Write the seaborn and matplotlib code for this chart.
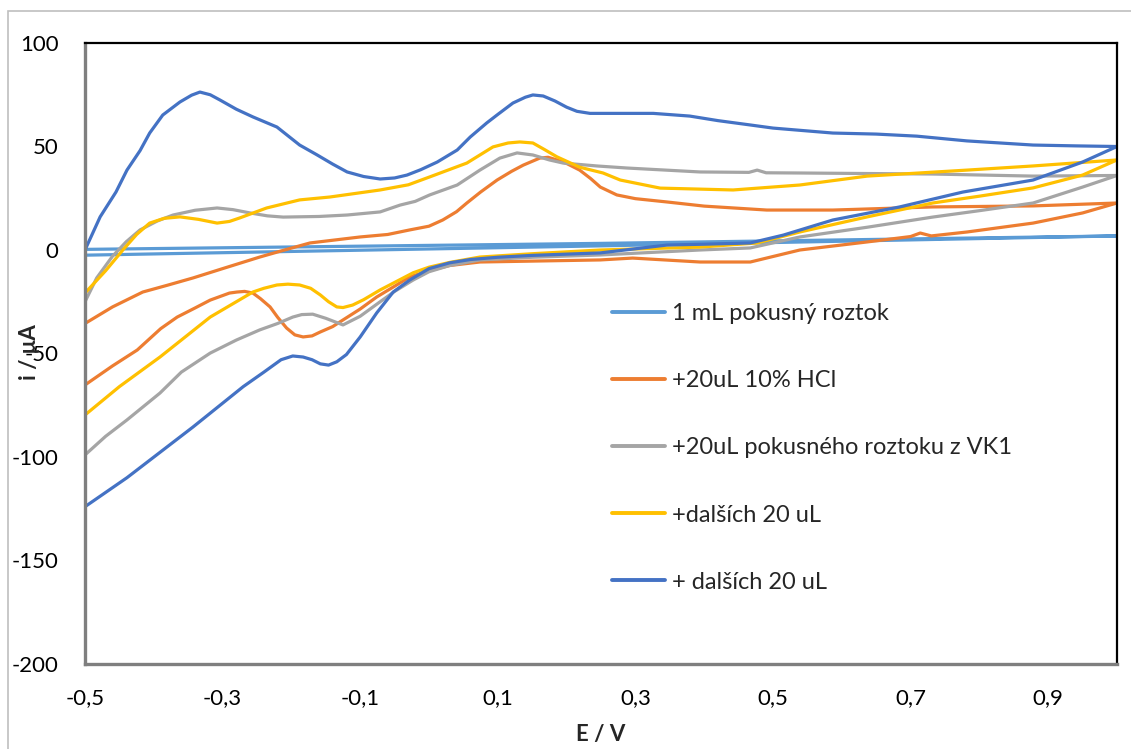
import numpy as np
import pandas as pd
import matplotlib
matplotlib.use("Agg")
import matplotlib.pyplot as plt
from matplotlib.patches import Rectangle
import seaborn as sns

# ---------------- data (E / V, i / uA), loop: forward branch then reverse branch
labels = ["1 mL pokusný roztok", "+20uL 10% HCl", "+20uL pokusného roztoku z VK1",
          "+dalších 20 uL", "+ dalších 20 uL"]
colors = ["#5B9BD5", "#ED7D31", "#A5A5A5", "#FFC000", "#4472C4"]

e1 = [-0.5, 0.25, 1.0, 0.25, -0.5]
i1 = [-2.5, 2.0, 6.8, 3.2, 0.3]

e2 = [-0.5, -0.46, -0.416, -0.38, -0.343, -0.3, -0.246, -0.21, -0.173, -0.1, -0.06, -0.028,
      0.0, 0.02, 0.04, 0.055, 0.075, 0.099, 0.12, 0.137, 0.161, 0.173, 0.186, 0.20, 0.219,
      0.235, 0.249, 0.273, 0.30, 0.346, 0.40, 0.491, 0.587, 0.732, 0.878, 1.0,
      0.95, 0.878, 0.782, 0.73, 0.714, 0.70, 0.637, 0.539, 0.467, 0.394, 0.296, 0.249, 0.074,
      0.03, 0.0, -0.028, -0.05, -0.076, -0.1, -0.125, -0.14, -0.158, -0.17, -0.183, -0.195,
      -0.207, -0.22, -0.231, -0.245, -0.256, -0.268, -0.279, -0.29, -0.318, -0.34, -0.366,
      -0.39, -0.424, -0.46, -0.5]
i2 = [-35.5, -27.5, -20.3, -17.0, -13.5, -9.0, -3.4, 0.0, 3.4, 6.3, 7.5, 9.7,
      11.5, 14.5, 18.5, 22.7, 28.0, 33.8, 38.0, 41.0, 44.4, 44.8, 43.5, 41.8, 38.6,
      34.5, 30.4, 26.6, 24.8, 23.2, 21.2, 19.3, 19.3, 20.8, 21.3, 22.7,
      17.9, 13.0, 8.7, 6.8, 8.2, 6.5, 3.9, 0.0, -5.8, -5.8, -3.9, -4.8, -5.8,
      -7.5, -10.0, -13.0, -17.5, -22.7, -28.5, -33.8, -37.0, -39.6, -41.5, -42.0, -41.0,
      -37.7, -32.5, -27.5, -23.5, -20.8, -20.0, -20.3, -20.8, -24.2, -28.0, -32.4,
      -38.0, -48.3, -56.0, -65.2]

e3 = [-0.5, -0.483, -0.46, -0.44, -0.42, -0.395, -0.372, -0.34, -0.308, -0.285, -0.26, -0.235,
      -0.212, -0.16, -0.119, -0.071, -0.042, -0.02, 0.001, 0.041, 0.074, 0.103, 0.128, 0.151,
      0.175, 0.195, 0.244, 0.288, 0.394, 0.465, 0.477, 0.49, 0.539, 0.732, 0.878, 1.0,
      0.95, 0.878, 0.8, 0.732, 0.637, 0.539, 0.467, 0.394, 0.249, 0.15, 0.074, 0.03, 0.0,
      -0.023, -0.05, -0.071, -0.10, -0.125, -0.15, -0.169, -0.185, -0.198, -0.22, -0.246,
      -0.28, -0.318, -0.36, -0.391, -0.439, -0.47, -0.5]
i3 = [-25.0, -13.5, -3.0, 4.0, 9.7, 14.0, 16.9, 19.2, 20.3, 19.5, 17.9, 16.5,
      15.9, 16.2, 16.9, 18.4, 21.7, 23.5, 26.6, 31.4, 38.6, 44.4, 46.9, 45.9,
      43.5, 42.0, 40.6, 39.6, 37.7, 37.5, 38.6, 37.3, 37.2, 36.7, 35.7, 36.0,
      30.4, 22.7, 19.0, 15.9, 11.0, 6.3, 1.0, 0.0, -2.4, -3.5, -4.8, -7.5, -10.5,
      -14.5, -20.0, -25.0, -32.0, -36.2, -33.0, -31.0, -31.2, -32.4, -35.5, -38.6,
      -43.5, -49.8, -59.0, -69.1, -82.1, -90.0, -99.0]

e4 = [-0.5, -0.47, -0.445, -0.425, -0.406, -0.385, -0.362, -0.335, -0.308, -0.29, -0.275,
      -0.236, -0.188, -0.144, -0.071, -0.03, 0.001, 0.055, 0.093, 0.115, 0.132, 0.151, 0.168,
      0.186, 0.219, 0.253, 0.278, 0.336, 0.442, 0.539, 0.637, 0.782, 0.878, 1.0,
      0.95, 0.878, 0.8, 0.732, 0.637, 0.539, 0.477, 0.394, 0.249, 0.15, 0.074, 0.03, 0.0,
      -0.023, -0.071, -0.095, -0.111, -0.125, -0.134, -0.146, -0.158, -0.172, -0.188, -0.205,
      -0.221, -0.24, -0.256, -0.318, -0.391, -0.45, -0.5]
i4 = [-20.8, -10.0, 0.0, 7.5, 13.0, 15.3, 16.0, 14.8, 13.0, 13.8, 15.5,
      20.3, 24.2, 25.6, 29.0, 31.5, 35.3, 42.0, 49.8, 51.7, 52.2, 51.7, 48.5,
      45.0, 40.0, 37.2, 33.8, 29.9, 29.0, 31.4, 35.7, 38.6, 40.6, 43.5,
      36.2, 30.0, 26.0, 22.7, 16.0, 8.7, 3.4, 1.4, 0.0, -1.8, -3.4, -6.0, -8.3,
      -11.0, -19.3, -24.0, -26.6, -27.8, -27.5, -25.0, -21.7, -18.5, -16.9, -16.5,
      -16.9, -18.5, -20.3, -32.4, -51.7, -66.0, -79.7]

e5 = [-0.5, -0.478, -0.455, -0.439, -0.42, -0.406, -0.387, -0.362, -0.345, -0.333, -0.318,
      -0.304, -0.28, -0.256, -0.221, -0.188, -0.163, -0.14, -0.119, -0.095, -0.071, -0.05,
      -0.032, -0.012, 0.012, 0.041, 0.060, 0.084, 0.10, 0.122, 0.14, 0.151, 0.166, 0.183,
      0.200, 0.215, 0.234, 0.288, 0.326, 0.379, 0.42, 0.467, 0.500, 0.587, 0.65, 0.709,
      0.782, 0.878, 0.94, 1.0,
      0.95, 0.878, 0.776, 0.684, 0.587, 0.515, 0.467, 0.40, 0.346, 0.249, 0.15, 0.10, 0.06,
      0.03, 0.0, -0.028, -0.052, -0.076, -0.10, -0.12, -0.134, -0.146, -0.158, -0.17, -0.183,
      -0.198, -0.215, -0.24, -0.27, -0.343, -0.439, -0.5]
i5 = [0.0, 16.0, 28.0, 38.6, 48.0, 56.5, 65.2, 71.5, 74.8, 76.3, 75.0,
      72.5, 68.0, 64.3, 59.4, 50.7, 46.0, 41.5, 37.7, 35.5, 34.3, 34.8,
      36.2, 38.8, 42.5, 48.3, 54.6, 61.4, 65.5, 71.0, 73.8, 74.9, 74.4, 72.0,
      69.0, 67.0, 66.0, 66.0, 66.0, 64.7, 62.5, 60.4, 58.9, 56.5, 56.0, 55.0,
      52.7, 50.7, 50.3, 50.0,
      42.5, 33.8, 28.0, 20.8, 14.5, 7.2, 3.4, 2.8, 2.4, -1.4, -2.6, -3.5, -4.6,
      -6.2, -9.0, -14.5, -20.3, -30.4, -42.0, -50.5, -54.0, -55.6, -55.0, -53.0, -51.7,
      -51.2, -53.0, -59.0, -66.0, -85.5, -110.0, -124.0]

x_ticks = [-0.5, -0.3, -0.1, 0.1, 0.3, 0.5, 0.7, 0.9]
y_ticks = [-200, -150, -100, -50, 0, 50, 100]

# ---------------- long-form frame
frames = []
for lab, e, i in zip(labels, [e1, e2, e3, e4, e5], [i1, i2, i3, i4, i5]):
    frames.append(pd.DataFrame({"E": e, "I": i, "series": lab}))
df = pd.concat(frames, ignore_index=True)

sns.set_theme(style="white")
plt.rcParams["font.family"] = ["Lato", "DejaVu Sans"]

fig = plt.figure(figsize=(11.31, 7.49), dpi=100)
ax = fig.add_axes([85 / 1131, 1 - 664 / 749, (1117 - 85) / 1131, (664 - 43) / 749])

sns.lineplot(data=df, x="E", y="I", hue="series", hue_order=labels,
             palette=dict(zip(labels, colors)), sort=False, estimator=None,
             linewidth=2.3, ax=ax, legend=True)
for ln in ax.get_lines():
    ln.set_solid_joinstyle("round")
    ln.set_solid_capstyle("round")

ax.set_xlim(-0.5, 1.0)
ax.set_ylim(-200, 100)
ax.set_xticks(x_ticks)
ax.set_xticklabels([f"{t:.1f}".replace(".", ",") for t in x_ticks])
ax.set_yticks(y_ticks)
ax.set_yticklabels([str(t) for t in y_ticks])
ax.tick_params(axis="both", length=0, labelsize=16, colors="black")
ax.tick_params(axis="y", pad=19)
ax.tick_params(axis="x", pad=17)

for s in ["top", "right"]:
    ax.spines[s].set_color("black")
    ax.spines[s].set_linewidth(1.6)
for s in ["left", "bottom"]:
    ax.spines[s].set_color("#7F7F7F")
    ax.spines[s].set_linewidth(2.4)

ax.set_xlabel("")
ax.set_ylabel("")
fig.text(601 / 1131, 1 - 735 / 749, "E / V", ha="center", va="center",
         fontsize=16, fontweight="bold")
fig.text(30 / 1131, 1 - 352 / 749, "i / μA", ha="center", va="center",
         fontsize=16, fontweight="bold", rotation=90)

handles, lbls = ax.get_legend_handles_labels()
leg = ax.legend(handles, lbls, loc="center left",
                bbox_to_anchor=(612 / 1131, 1 - 448 / 749), bbox_transform=fig.transFigure,
                frameon=False, fontsize=17, handlelength=2.25, handletextpad=0.3,
                labelspacing=1.95, borderpad=0, borderaxespad=0)
for h in leg.get_lines():
    h.set_linewidth(2.8)

fig.add_artist(Rectangle((8 / 1131, -0.1), 1.2, 1.1 - 11 / 749,
                         transform=fig.transFigure, fill=False,
                         edgecolor="#BFBFBF", linewidth=1.2))

fig.savefig("out.png", dpi=100, facecolor="white")
